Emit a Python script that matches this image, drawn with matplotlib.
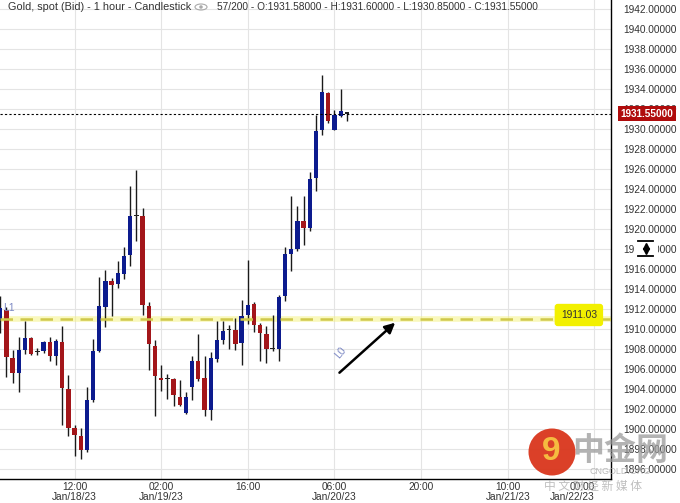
import numpy as np
import matplotlib
matplotlib.use("Agg")
from matplotlib import pyplot as plt, transforms
from matplotlib.patches import Rectangle, Ellipse

plt.rcParams['font.family'] = ['Liberation Sans', 'DejaVu Sans']

# hourly candles, Jan/18/23 00:00 -> Jan/20/23 08:00
opens = [1911.0, 1911.9, 1907.1, 1905.6, 1907.9, 1909.1, 1907.7, 1907.8, 1908.7, 1907.3,
         1908.7, 1904.0, 1900.1, 1899.3, 1897.9, 1902.9, 1907.8, 1912.2, 1914.8, 1914.5,
         1915.5, 1917.4, 1921.3, 1921.3, 1912.3, 1908.3, 1905.1, 1905.0, 1905.0, 1903.2,
         1901.6, 1904.2, 1906.8, 1905.1, 1901.9, 1907.0, 1908.9, 1909.9, 1909.9, 1908.6,
         1911.4, 1912.5, 1910.4, 1909.5, 1908.05, 1908.0, 1913.3, 1917.5, 1918.0, 1920.8,
         1920.1, 1925.1, 1929.9, 1933.6, 1929.9, 1931.3, 1931.58]
highs = [1913.3, 1912.2, 1907.9, 1909.2, 1910.8, 1909.2, 1908.1, 1908.8, 1909.2, 1909.0,
         1910.3, 1905.4, 1900.4, 1900.1, 1904.2, 1909.0, 1915.2, 1915.9, 1915.1, 1916.8,
         1918.2, 1924.3, 1925.9, 1922.1, 1912.7, 1908.9, 1906.4, 1905.5, 1905.1, 1904.9,
         1903.7, 1907.3, 1909.5, 1907.3, 1907.7, 1910.8, 1910.8, 1910.4, 1911.1, 1912.9,
         1916.9, 1912.7, 1910.6, 1910.3, 1911.4, 1913.4, 1918.2, 1923.3, 1922.3, 1923.3,
         1925.7, 1931.4, 1935.4, 1933.7, 1931.9, 1934.0, 1931.60]
lows = [1909.6, 1905.2, 1904.6, 1903.7, 1907.5, 1907.4, 1907.4, 1907.6, 1906.8, 1906.4,
        1900.4, 1899.3, 1897.3, 1897.0, 1897.7, 1902.7, 1907.7, 1910.2, 1911.3, 1914.1,
        1915.0, 1916.3, 1918.8, 1911.4, 1905.9, 1901.3, 1903.8, 1903.0, 1902.3, 1902.3,
        1901.5, 1902.9, 1904.8, 1901.3, 1900.9, 1906.7, 1908.5, 1908.0, 1907.9, 1906.4,
        1910.5, 1909.7, 1906.8, 1906.6, 1907.8, 1906.8, 1912.8, 1915.8, 1917.8, 1918.4,
        1919.8, 1923.8, 1929.4, 1930.6, 1929.9, 1931.2, 1930.85]
closes = [1912.1, 1907.2, 1905.6, 1907.9, 1909.1, 1907.5, 1907.75, 1908.7, 1907.3, 1908.8,
          1904.1, 1900.1, 1899.4, 1897.9, 1902.9, 1907.8, 1912.3, 1914.8, 1914.4, 1915.6,
          1917.3, 1921.3, 1921.35, 1912.4, 1908.5, 1905.3, 1904.9, 1905.05, 1903.4, 1902.4,
          1903.2, 1906.8, 1905.0, 1901.9, 1907.1, 1908.9, 1909.8, 1909.95, 1908.5, 1911.3,
          1912.4, 1910.4, 1909.6, 1908.0, 1908.0, 1913.2, 1917.5, 1918.0, 1920.8, 1920.1,
          1925.0, 1929.8, 1933.7, 1930.8, 1931.4, 1931.8, 1931.55]

tick_pos = [12, 26, 40, 54, 68, 82, 96]
tick_labels = ['12:00\nJan/18/23', '02:00\nJan/19/23', '16:00', '06:00\nJan/20/23',
               '20:00', '10:00\nJan/21/23', '00:00\nJan/22/23']
level_price = 1911.03
arrow_from = (54.8, 1905.66)
arrow_to = (63.8, 1910.66)

title1 = 'Gold, spot (Bid) - 1 hour - Candlestick'
title2 = '57/200 - O:1931.58000 - H:1931.60000 - L:1930.85000 - C:1931.55000'

W, H = 680, 503
fig = plt.figure(figsize=(W / 100, H / 100), dpi=100)
ax = fig.add_axes([0, 24 / H, 611 / W, 479 / H])

x = np.arange(len(opens))
o = np.array(opens); c = np.array(closes)
up = c >= o
col = np.where(up, '#0c1b8e', '#a3161a')
col = np.where(np.abs(c - o) < 0.1, '#222222', col)
ax.vlines(x, lows, highs, color='#1a1a1a', lw=1, zorder=3)
ax.bar(x, np.maximum(np.abs(c - o), 0.15), bottom=np.minimum(o, c), width=0.7,
       color=col, zorder=4, linewidth=0)

ax.set_xlim(-0.04, 98.67)
ax.set_ylim(1895.03, 1942.93)

ax.set_yticks(np.arange(1896, 1943, 2))
ax.set_yticklabels(['%.5f' % v for v in np.arange(1896, 1943, 2)])
ax.yaxis.tick_right()
ax.tick_params(axis='y', length=0, pad=8.5, labelsize=7.3, labelcolor='#333333')
ax.set_xticks(tick_pos)
ax.set_xticklabels(tick_labels, linespacing=1.0)
ax.tick_params(axis='x', length=0, pad=2.5, labelsize=7.3, labelcolor='#333333')
ax.xaxis.get_major_ticks()[-1].label1.set_horizontalalignment('right')
ax.grid(True, color='#e4e4e4', lw=0.8, zorder=0)
for s in ['top', 'left']:
    ax.spines[s].set_visible(False)
for s in ['right', 'bottom']:
    ax.spines[s].set_color('black')
    ax.spines[s].set_linewidth(1)

# last price line + marker
last = closes[-1]
ax.axhline(last, color='black', lw=0.8, ls=(0, (2, 2)), zorder=5)
tr = transforms.blended_transform_factory(ax.transAxes, ax.transData)
ax.text(1.0155, last, '%.5f' % last, transform=tr, ha='left', va='center',
        fontsize=7.2, color='white', fontweight='bold', clip_on=False, zorder=10,
        bbox=dict(boxstyle='square,pad=0.25', fc='#b00c0c', ec='none'))

# horizontal level
ax.axhline(level_price, color='#f4f27a', lw=4, alpha=0.5, zorder=2)
ax.axhline(level_price, color='#cfc84a', lw=1.8, ls=(0, (5, 3)), zorder=6)
ax.text(0.977, level_price + 0.4, '%.2f' % level_price, transform=tr, ha='right', va='center',
        fontsize=7.4, color='#333333', zorder=11,
        bbox=dict(boxstyle='round,pad=0.6,rounding_size=0.3', fc='#f2f000', ec='none'))
ax.text(0.4, level_price + 0.8, 'L1', fontsize=7.5, color='#7d89c4', zorder=7)
ax.text(54.9, 1907.7, 'L0', fontsize=7.5, color='#7d89c4', rotation=50,
        ha='center', va='center', zorder=7)
ax.annotate('', xy=arrow_to, xytext=arrow_from, zorder=8,
            arrowprops=dict(arrowstyle='-|>,head_length=0.6,head_width=0.3',
                            color='black', lw=1.8, shrinkA=0, shrinkB=0))

# title
fig.text(8 / W, 1 - 7 / H, title1, fontsize=7.8, color='#333333', va='center')
fig.text(217 / W, 1 - 7 / H, title2, fontsize=7.3, color='#333333', va='center')
fig.patches.append(Ellipse((201 / W, 1 - 7 / H), 12 / W, 6 / H, transform=fig.transFigure,
                           fill=False, ec='#aaaaaa', lw=0.8))
fig.patches.append(Ellipse((201 / W, 1 - 7 / H), 3.5 / W, 3.5 / H, transform=fig.transFigure,
                           fc='#aaaaaa', ec='none'))

# scroll widget over the y labels
fig.patches.append(Rectangle((634 / W, 1 - 258 / H), 24 / W, 18 / H, transform=fig.transFigure,
                             fc='white', ec='none'))
fig.lines.append(plt.Line2D([638 / W, 653 / W], [1 - 241 / H] * 2, transform=fig.transFigure,
                            color='black', lw=1.3))
fig.lines.append(plt.Line2D([638 / W, 653 / W], [1 - 256 / H] * 2, transform=fig.transFigure,
                            color='black', lw=1.3))
fig.lines.append(plt.Line2D([645.5 / W], [1 - 246 / H], transform=fig.transFigure,
                            marker='^', ms=4, color='black'))
fig.lines.append(plt.Line2D([645.5 / W], [1 - 251 / H], transform=fig.transFigure,
                            marker='v', ms=4, color='black'))

# watermark
fig.patches.append(Ellipse((552 / W, 1 - 452 / H), 47 / W, 47 / H, transform=fig.transFigure,
                           fc='#d9361c', ec='none', alpha=0.95))
fig.text(551 / W, 1 - 452 / H, '9', fontsize=24, fontweight='bold', color='#f7c342',
         ha='center', va='center', alpha=0.95)
fig.text(620 / W, 1 - 451 / H, '中金网', fontsize=23, fontweight='bold', color='#9a9a9a',
         ha='center', va='center', alpha=0.75, family=['Noto Sans CJK SC', 'DejaVu Sans'])
fig.text(620 / W, 1 - 472 / H, 'CNGOLD.ORG', fontsize=6.5, color='#aaaaaa',
         ha='center', va='center', alpha=0.8)
fig.text(593 / W, 1 - 486 / H, '中 文 财 经 新 媒 体', fontsize=8.5, color='#b4b4b4',
         ha='center', va='center', alpha=0.85, family=['Noto Sans CJK SC', 'DejaVu Sans'])

fig.savefig('out.png', dpi=100)
